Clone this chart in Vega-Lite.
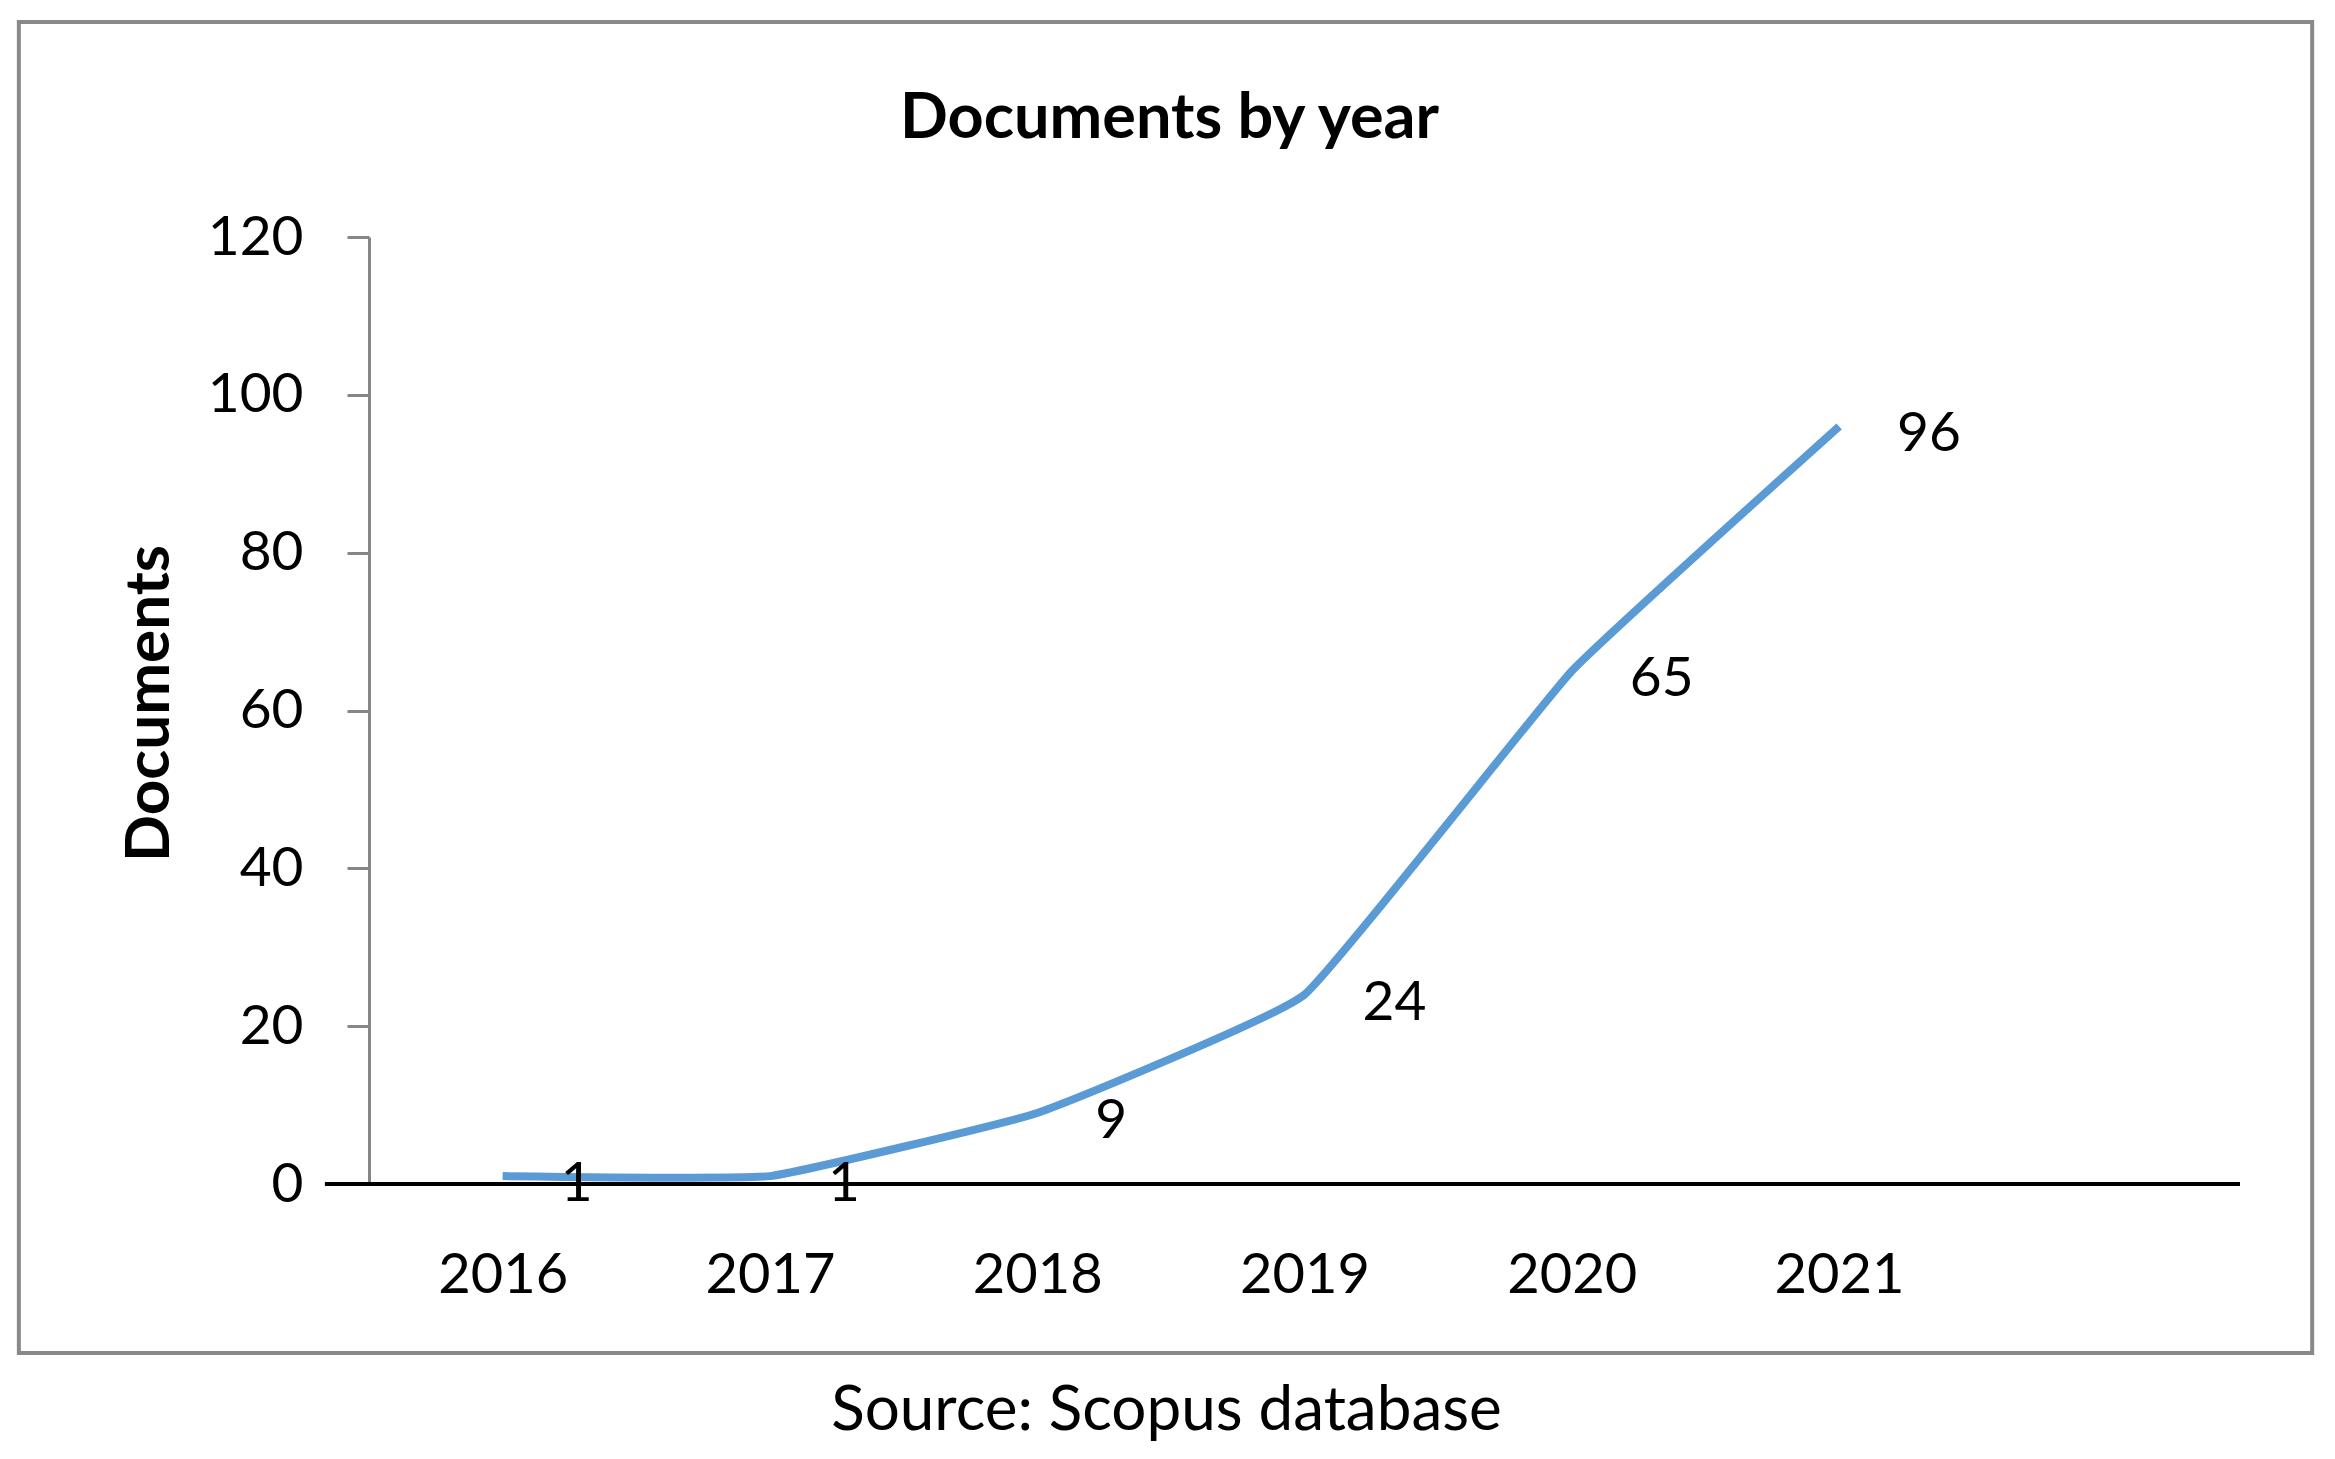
{
  "$schema": "https://vega.github.io/schema/vega-lite/v6.json",
  "width": 1871,
  "height": 947,
  "autosize": {"type": "none"},
  "padding": {"left": 369, "top": 237, "right": 95, "bottom": 275},
  "background": "white",
  "config": {"view": {"stroke": null}, "font": "Lato"},
  "title": {
    "text": "Documents by year",
    "font": "Lato",
    "fontSize": 63,
    "fontWeight": "bold",
    "color": "black",
    "anchor": "middle",
    "frame": "group",
    "baseline": "alphabetic",
    "dx": -135,
    "dy": 185
  },
  "data": {
    "values": [
      {"year": 2016, "documents": 1},
      {"year": 2017, "documents": 1},
      {"year": 2018, "documents": 9},
      {"year": 2019, "documents": 24},
      {"year": 2020, "documents": 65},
      {"year": 2021, "documents": 96}
    ]
  },
  "layer": [
    {
      "data": {"values": [{}]},
      "mark": {"type": "rect", "fill": "transparent", "stroke": "#898989", "strokeWidth": 4},
      "encoding": {
        "x": {"datum": 2014.19, "type": "quantitative"},
        "x2": {"datum": 2022.77},
        "y": {"datum": -21.41, "type": "quantitative"},
        "y2": {"datum": 147.24}
      }
    },
    {
      "data": {"values": [{}]},
      "mark": {"type": "rule", "color": "black", "strokeWidth": 4},
      "encoding": {
        "x": {"datum": 2015.335, "type": "quantitative"},
        "x2": {"datum": 2022.5},
        "y": {"datum": 0, "type": "quantitative"}
      }
    },
    {
      "mark": {"type": "line", "interpolate": "cardinal", "tension": 0.7, "color": "#5B9BD5", "strokeWidth": 8},
      "encoding": {
        "x": {
          "field": "year",
          "type": "quantitative",
          "scale": {"domain": [2015.5, 2022.5], "nice": false, "zero": false},
          "axis": {
            "values": [2016, 2017, 2018, 2019, 2020, 2021],
            "format": "d",
            "grid": false,
            "ticks": false,
            "tickSize": 0,
            "domain": false,
            "labelFont": "Lato",
            "labelFontSize": 56,
            "labelColor": "black",
            "labelPadding": 64,
            "labelFlush": false,
            "title": "Source: Scopus database",
            "titleFont": "Lato",
            "titleFontSize": 62,
            "titleFontWeight": "normal",
            "titleColor": "black",
            "titleX": 797,
            "titleY": 226,
            "titleAlign": "center",
            "titleBaseline": "middle"
          }
        },
        "y": {
          "field": "documents",
          "type": "quantitative",
          "scale": {"domain": [0, 120], "nice": false, "zero": true},
          "axis": {
            "values": [0, 20, 40, 60, 80, 100, 120],
            "grid": false,
            "domainColor": "#868686",
            "domainWidth": 3,
            "tickColor": "#868686",
            "tickWidth": 3,
            "tickSize": 22,
            "labelFont": "Lato",
            "labelFontSize": 55,
            "labelColor": "black",
            "labelPadding": 44,
            "title": "Documents",
            "titleFont": "Lato",
            "titleFontSize": 62,
            "titleFontWeight": "bold",
            "titleColor": "black",
            "titleX": -220,
            "titleY": 466,
            "titleAngle": 270,
            "titleAlign": "center",
            "titleBaseline": "middle"
          }
        }
      }
    },
    {
      "mark": {"type": "text", "align": "left", "baseline": "middle", "dx": 58, "dy": 8, "font": "Lato", "fontSize": 55, "color": "black"},
      "encoding": {
        "x": {"field": "year", "type": "quantitative"},
        "y": {"field": "documents", "type": "quantitative"},
        "text": {"field": "documents", "type": "quantitative"}
      }
    }
  ]
}
